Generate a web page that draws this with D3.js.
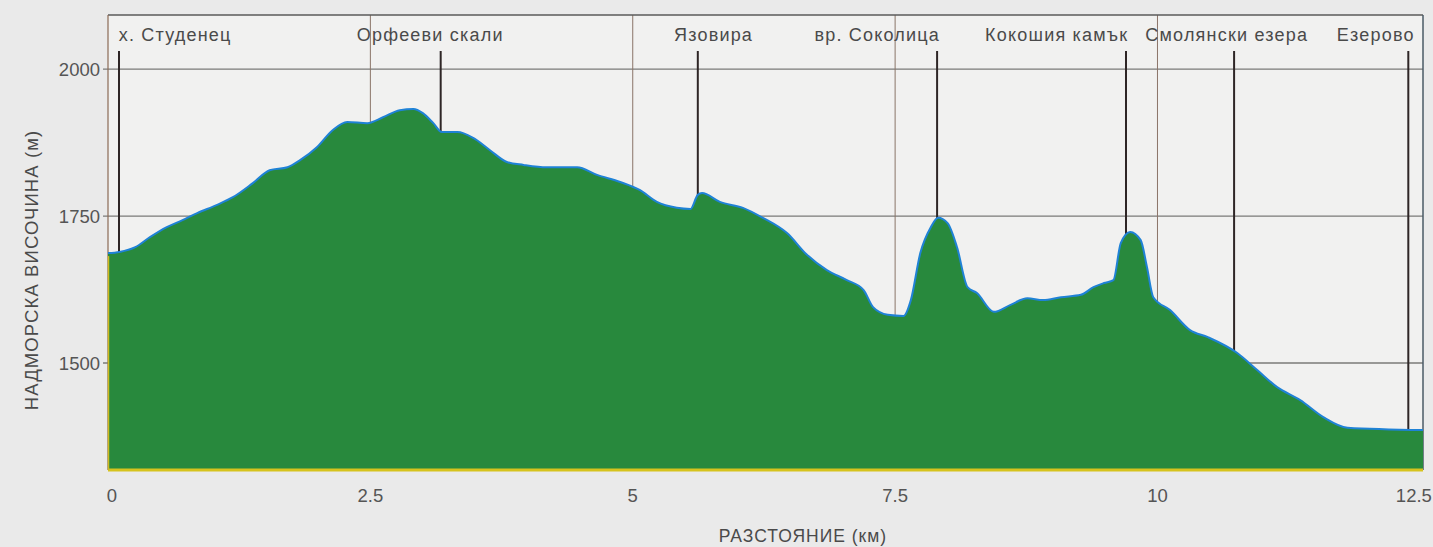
<!DOCTYPE html>
<html>
<head>
<meta charset="utf-8">
<script src="https://cdn.jsdelivr.net/npm/d3@7"></script>
<style>
  html, body { margin: 0; padding: 0; background: #eaeaea; }
  svg { display: block; font-family: "Liberation Sans", Arial, sans-serif; }
</style>
</head>
<body>
<div id="chart"></div>
<script>
// elevation profile
var distKm = [0, 0.11, 0.26, 0.40, 0.56, 0.71, 0.85, 1.04, 1.19, 1.38, 1.54, 1.71, 1.83, 1.99, 2.14, 2.28,
  2.47, 2.62, 2.78, 2.91, 3.00, 3.10, 3.18, 3.33, 3.48, 3.64, 3.80, 3.96, 4.18, 4.47, 4.66, 4.88,
  5.07, 5.23, 5.42, 5.55, 5.62, 5.66, 5.83, 6.05, 6.24, 6.47, 6.66, 6.85, 7.04, 7.20, 7.29, 7.43,
  7.58, 7.65, 7.74, 7.84, 7.91, 8.00, 8.09, 8.19, 8.28, 8.44, 8.60, 8.76, 8.91, 9.08, 9.27, 9.39,
  9.49, 9.58, 9.65, 9.74, 9.84, 9.90, 9.96, 10.12, 10.31, 10.48, 10.76, 10.95, 11.14, 11.36, 11.58,
  11.81, 12.53];
var elevM = [1687, 1689, 1697, 1714, 1731, 1743, 1755, 1769, 1782, 1806, 1828, 1833, 1845, 1867, 1896, 1910,
  1908, 1918, 1930, 1932, 1925, 1908, 1893, 1893, 1883, 1862, 1842, 1837, 1833, 1833, 1820, 1808,
  1794, 1774, 1764, 1762, 1786, 1789, 1774, 1764, 1747, 1721, 1684, 1658, 1641, 1624, 1595, 1582,
  1580, 1607, 1687, 1731, 1747, 1738, 1697, 1629, 1619, 1587, 1599, 1610, 1607, 1612, 1616, 1629,
  1636, 1641, 1704, 1723, 1709, 1663, 1612, 1590, 1556, 1544, 1517, 1488, 1459, 1437, 1408,
  1390, 1386];

var xTicks = [0, 2.5, 5, 7.5, 10, 12.5];
var xTickLabels = ["0", "2.5", "5", "7.5", "10", "12.5"];
var yTicks = [1500, 1750, 2000];

var placeNames = ["х. Студенец", "Орфееви скали", "Язовира", "вр. Соколица", "Кокошия камък", "Смолянски езера", "Езерово"];
var placeKm = [0.105, 3.17, 5.62, 7.90, 9.70, 10.73, 12.39];
var placeLabelKm = [0.64, 3.07, 5.77, 7.33, 9.04, 10.66, 12.08];

var W = 1433, H = 547;
var plotL = 108, plotR = 1423, plotT = 15, plotB = 470;

var svg = d3.select("#chart").append("svg")
  .attr("width", W)
  .attr("height", H);

var x = d3.scaleLinear().domain([0, 12.53]).range([plotL, plotR]);
var y = d3.scaleLinear().domain([1318, 2092]).range([plotB, plotT]);

var profile = distKm.map(function(d, i) { return {km: d, m: elevM[i]}; });

// plot background
svg.append("rect")
  .attr("x", plotL).attr("y", plotT)
  .attr("width", plotR - plotL).attr("height", plotB - plotT)
  .attr("fill", "#f1f1f0");

// horizontal grid
svg.selectAll(".hgrid").data(yTicks).enter().append("line")
  .attr("x1", plotL - 5).attr("x2", plotR)
  .attr("y1", function(d) { return y(d); }).attr("y2", function(d) { return y(d); })
  .attr("stroke", "#7a7a78").attr("stroke-width", 1.3);

// vertical grid (inner ticks only)
svg.selectAll(".vgrid").data(xTicks.slice(1, -1)).enter().append("line")
  .attr("x1", function(d) { return x(d); }).attr("x2", function(d) { return x(d); })
  .attr("y1", plotT).attr("y2", plotB)
  .attr("stroke", "#8a7468").attr("stroke-width", 1);

// frame
svg.append("line").attr("x1", plotL).attr("x2", plotR).attr("y1", plotT).attr("y2", plotT)
  .attr("stroke", "#5a5a5a").attr("stroke-width", 1.5);
svg.append("line").attr("x1", plotR).attr("x2", plotR).attr("y1", plotT).attr("y2", plotB)
  .attr("stroke", "#4a5a66").attr("stroke-width", 1.5);
svg.append("line").attr("x1", plotL).attr("x2", plotL).attr("y1", plotT).attr("y2", plotB)
  .attr("stroke", "#8a6a55").attr("stroke-width", 1.2);

// markers
function elevAt(km) {
  var i = d3.bisector(function(d) { return d.km; }).left(profile, km);
  if (i <= 0) return profile[0].m;
  var a = profile[i - 1], b = profile[i];
  var t = (km - a.km) / (b.km - a.km);
  return a.m + t * (b.m - a.m);
}

svg.selectAll(".marker").data(placeKm).enter().append("line")
  .attr("x1", function(d) { return x(d); }).attr("x2", function(d) { return x(d); })
  .attr("y1", 51).attr("y2", function(d) { return y(elevAt(d)) + 4; })
  .attr("stroke", "#2e2626").attr("stroke-width", 2);

// the profile
var area = d3.area()
  .x(function(d) { return x(d.km); })
  .y0(plotB)
  .y1(function(d) { return y(d.m); })
  .curve(d3.curveMonotoneX);

var topLine = d3.line()
  .x(function(d) { return x(d.km); })
  .y(function(d) { return y(d.m); })
  .curve(d3.curveMonotoneX);

svg.append("path").datum(profile)
  .attr("d", area)
  .attr("fill", "#28893d");

svg.append("path").datum(profile)
  .attr("d", topLine)
  .attr("fill", "none")
  .attr("stroke", "#1f82d6")
  .attr("stroke-width", 2);

// yellow base + left edge
svg.append("line").attr("x1", plotL).attr("x2", plotR).attr("y1", plotB).attr("y2", plotB)
  .attr("stroke", "#d6c31e").attr("stroke-width", 3);
svg.append("line").attr("x1", plotL + 0.5).attr("x2", plotL + 0.5).attr("y1", y(elevM[0]) + 3).attr("y2", plotB)
  .attr("stroke", "#cdbb22").attr("stroke-width", 1.5);

// place labels
svg.selectAll(".place").data(placeNames).enter().append("text")
  .attr("x", function(d, i) { return x(placeLabelKm[i]); })
  .attr("y", 41)
  .attr("text-anchor", "middle")
  .attr("font-size", 18)
  .attr("letter-spacing", 1.2)
  .attr("fill", "#4a4a4a")
  .text(function(d) { return d; });

// tick labels
svg.selectAll(".xlab").data(xTicks).enter().append("text")
  .attr("x", function(d) { return x(d) + (d === 0 ? 4 : d === 12.5 ? -6 : 0); })
  .attr("y", 502)
  .attr("text-anchor", "middle")
  .attr("font-size", 18.5)
  .attr("fill", "#555")
  .text(function(d, i) { return xTickLabels[i]; });

svg.selectAll(".ylab").data(yTicks).enter().append("text")
  .attr("x", 100)
  .attr("y", function(d) { return y(d) + 7; })
  .attr("text-anchor", "end")
  .attr("font-size", 18.5)
  .attr("fill", "#555")
  .text(function(d) { return d; });

// axis titles
svg.append("text")
  .attr("x", 803).attr("y", 542)
  .attr("text-anchor", "middle")
  .attr("font-size", 17.5)
  .attr("letter-spacing", 1)
  .attr("fill", "#4a4a4a")
  .text("РАЗСТОЯНИЕ (км)");

svg.append("text")
  .attr("transform", "translate(38,270) rotate(-90)")
  .attr("text-anchor", "middle")
  .attr("font-size", 18.5)
  .attr("letter-spacing", 1.1)
  .attr("fill", "#4a4a4a")
  .text("НАДМОРСКА ВИСОЧИНА (м)");
</script>
</body>
</html>
